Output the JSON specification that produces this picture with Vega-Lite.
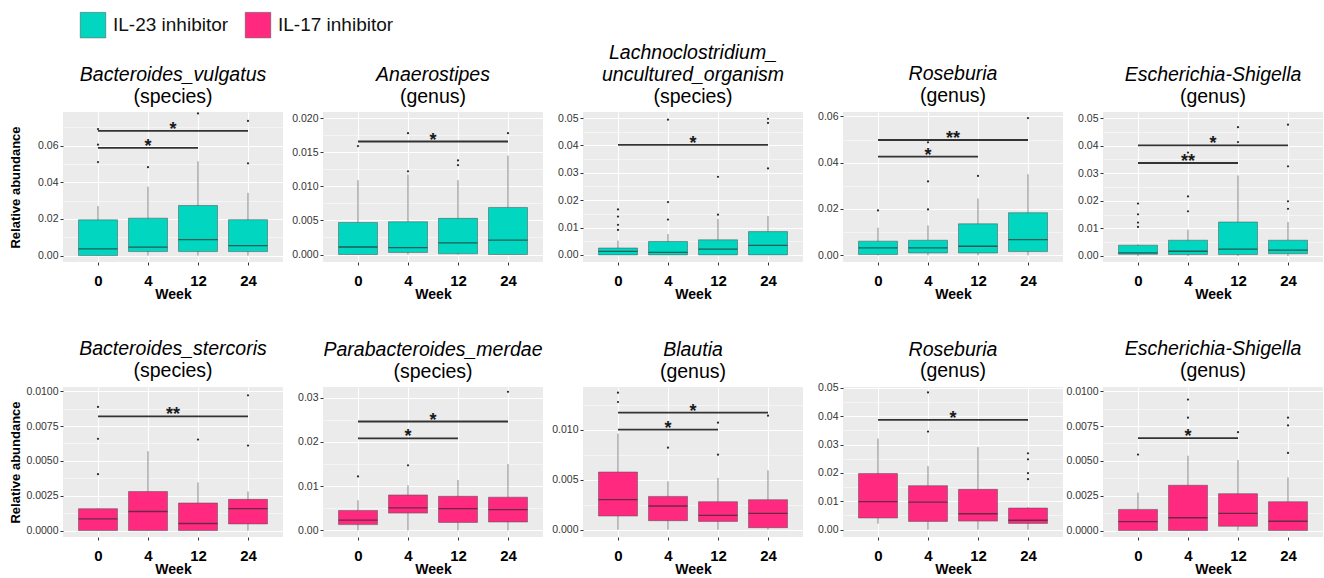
{
"$schema":"https://vega.github.io/schema/vega-lite/v6.json",
"padding":{"left":8,"top":12,"right":0,"bottom":0},
"background":"#FFFFFF",
"datasets":{
"boxes":[
{"panel":1,"group":"IL-23 inhibitor","week":"0","lower":0,"q1":0,"median":0.0037,"q3":0.0195,"upper":0.027},
{"panel":1,"group":"IL-23 inhibitor","week":"4","lower":0,"q1":0.0022,"median":0.0046,"q3":0.0204,"upper":0.0376},
{"panel":1,"group":"IL-23 inhibitor","week":"12","lower":0,"q1":0.0022,"median":0.0087,"q3":0.0273,"upper":0.0514},
{"panel":1,"group":"IL-23 inhibitor","week":"24","lower":0,"q1":0.0022,"median":0.0054,"q3":0.0196,"upper":0.0342},
{"panel":2,"group":"IL-23 inhibitor","week":"0","lower":0,"q1":0,"median":0.0011,"q3":0.0047,"upper":0.0109},
{"panel":2,"group":"IL-23 inhibitor","week":"4","lower":0,"q1":0.0003,"median":0.001,"q3":0.0048,"upper":0.0117},
{"panel":2,"group":"IL-23 inhibitor","week":"12","lower":0,"q1":0.0001,"median":0.0017,"q3":0.0053,"upper":0.0109},
{"panel":2,"group":"IL-23 inhibitor","week":"24","lower":0,"q1":0,"median":0.0021,"q3":0.0069,"upper":0.0145},
{"panel":3,"group":"IL-23 inhibitor","week":"0","lower":0,"q1":0,"median":0.0013,"q3":0.0025,"upper":0.0052},
{"panel":3,"group":"IL-23 inhibitor","week":"4","lower":0,"q1":0,"median":0.0009,"q3":0.0049,"upper":0.0076},
{"panel":3,"group":"IL-23 inhibitor","week":"12","lower":0,"q1":0,"median":0.0021,"q3":0.0055,"upper":0.0131},
{"panel":3,"group":"IL-23 inhibitor","week":"24","lower":0,"q1":0,"median":0.0035,"q3":0.0085,"upper":0.0142},
{"panel":4,"group":"IL-23 inhibitor","week":"0","lower":0,"q1":0.0003,"median":0.0032,"q3":0.0061,"upper":0.0119},
{"panel":4,"group":"IL-23 inhibitor","week":"4","lower":0,"q1":0.001,"median":0.0032,"q3":0.0065,"upper":0.0129},
{"panel":4,"group":"IL-23 inhibitor","week":"12","lower":0,"q1":0.001,"median":0.0039,"q3":0.0136,"upper":0.0245},
{"panel":4,"group":"IL-23 inhibitor","week":"24","lower":0,"q1":0.0016,"median":0.0068,"q3":0.0184,"upper":0.035},
{"panel":5,"group":"IL-23 inhibitor","week":"0","lower":0,"q1":0.0006,"median":0.0011,"q3":0.0039,"upper":0.0042},
{"panel":5,"group":"IL-23 inhibitor","week":"4","lower":0,"q1":0.0005,"median":0.0017,"q3":0.0057,"upper":0.0095},
{"panel":5,"group":"IL-23 inhibitor","week":"12","lower":0,"q1":0.0005,"median":0.0025,"q3":0.0123,"upper":0.0292},
{"panel":5,"group":"IL-23 inhibitor","week":"24","lower":0,"q1":0.0008,"median":0.0021,"q3":0.0057,"upper":0.0123},
{"panel":6,"group":"IL-17 inhibitor","week":"0","lower":0,"q1":0,"median":0.00084,"q3":0.00157,"upper":0.0016},
{"panel":6,"group":"IL-17 inhibitor","week":"4","lower":0,"q1":0,"median":0.00137,"q3":0.0028,"upper":0.00569},
{"panel":6,"group":"IL-17 inhibitor","week":"12","lower":0,"q1":0,"median":0.00051,"q3":0.00198,"upper":0.00345},
{"panel":6,"group":"IL-17 inhibitor","week":"24","lower":0,"q1":0.00048,"median":0.00157,"q3":0.00224,"upper":0.0028},
{"panel":7,"group":"IL-17 inhibitor","week":"0","lower":0,"q1":0.0013,"median":0.0023,"q3":0.0045,"upper":0.0068},
{"panel":7,"group":"IL-17 inhibitor","week":"4","lower":0,"q1":0.0039,"median":0.0051,"q3":0.008,"upper":0.0102},
{"panel":7,"group":"IL-17 inhibitor","week":"12","lower":0,"q1":0.0018,"median":0.0049,"q3":0.0077,"upper":0.0114},
{"panel":7,"group":"IL-17 inhibitor","week":"24","lower":0,"q1":0.0019,"median":0.0047,"q3":0.0075,"upper":0.015},
{"panel":8,"group":"IL-17 inhibitor","week":"0","lower":0,"q1":0.00137,"median":0.003,"q3":0.00577,"upper":0.0096},
{"panel":8,"group":"IL-17 inhibitor","week":"4","lower":0,"q1":0.0009,"median":0.00237,"q3":0.00333,"upper":0.00483},
{"panel":8,"group":"IL-17 inhibitor","week":"12","lower":0,"q1":0.00083,"median":0.00143,"q3":0.0028,"upper":0.00517},
{"panel":8,"group":"IL-17 inhibitor","week":"24","lower":0,"q1":0.0002,"median":0.00163,"q3":0.003,"upper":0.00593},
{"panel":9,"group":"IL-17 inhibitor","week":"0","lower":0.0021,"q1":0.0041,"median":0.0099,"q3":0.0198,"upper":0.0321},
{"panel":9,"group":"IL-17 inhibitor","week":"4","lower":0,"q1":0.0029,"median":0.0097,"q3":0.0155,"upper":0.0224},
{"panel":9,"group":"IL-17 inhibitor","week":"12","lower":0,"q1":0.003,"median":0.0056,"q3":0.0142,"upper":0.0291},
{"panel":9,"group":"IL-17 inhibitor","week":"24","lower":0,"q1":0.0022,"median":0.0033,"q3":0.0076,"upper":0.0079},
{"panel":10,"group":"IL-17 inhibitor","week":"0","lower":0,"q1":0,"median":0.00065,"q3":0.00152,"upper":0.00272},
{"panel":10,"group":"IL-17 inhibitor","week":"4","lower":0,"q1":0,"median":0.00092,"q3":0.00325,"upper":0.00537},
{"panel":10,"group":"IL-17 inhibitor","week":"12","lower":0,"q1":0.00031,"median":0.00123,"q3":0.00265,"upper":0.00506},
{"panel":10,"group":"IL-17 inhibitor","week":"24","lower":0,"q1":0,"median":0.00067,"q3":0.00207,"upper":0.00381}
],
"outliers":[
{"panel":1,"week":"0","value":0.051},{"panel":1,"week":"0","value":0.0605},{"panel":1,"week":"0","value":0.069},
{"panel":1,"week":"4","value":0.0482},{"panel":1,"week":"12","value":0.0775},
{"panel":1,"week":"24","value":0.0734},{"panel":1,"week":"24","value":0.0503},
{"panel":2,"week":"0","value":0.0159},{"panel":2,"week":"4","value":0.0122},{"panel":2,"week":"4","value":0.0178},
{"panel":2,"week":"12","value":0.0131},{"panel":2,"week":"12","value":0.0138},{"panel":2,"week":"24","value":0.0178},
{"panel":3,"week":"0","value":0.0091},{"panel":3,"week":"0","value":0.011},{"panel":3,"week":"0","value":0.014},{"panel":3,"week":"0","value":0.0166},
{"panel":3,"week":"4","value":0.0129},{"panel":3,"week":"4","value":0.0193},{"panel":3,"week":"4","value":0.0494},
{"panel":3,"week":"12","value":0.0147},{"panel":3,"week":"12","value":0.0285},
{"panel":3,"week":"24","value":0.0316},{"panel":3,"week":"24","value":0.0482},{"panel":3,"week":"24","value":0.0497},
{"panel":4,"week":"0","value":0.0194},{"panel":4,"week":"4","value":0.0198},{"panel":4,"week":"4","value":0.0319},{"panel":4,"week":"4","value":0.0488},
{"panel":4,"week":"12","value":0.0343},{"panel":4,"week":"24","value":0.0593},
{"panel":5,"week":"0","value":0.0105},{"panel":5,"week":"0","value":0.0121},{"panel":5,"week":"0","value":0.0151},{"panel":5,"week":"0","value":0.019},
{"panel":5,"week":"4","value":0.0162},{"panel":5,"week":"4","value":0.0216},{"panel":5,"week":"4","value":0.0375},
{"panel":5,"week":"12","value":0.0413},{"panel":5,"week":"12","value":0.0467},
{"panel":5,"week":"24","value":0.0171},{"panel":5,"week":"24","value":0.0198},{"panel":5,"week":"24","value":0.0325},{"panel":5,"week":"24","value":0.0476},
{"panel":6,"week":"0","value":0.00405},{"panel":6,"week":"0","value":0.00658},{"panel":6,"week":"0","value":0.00887},
{"panel":6,"week":"12","value":0.00653},{"panel":6,"week":"24","value":0.0061},{"panel":6,"week":"24","value":0.0097},
{"panel":7,"week":"0","value":0.0122},{"panel":7,"week":"4","value":0.0147},{"panel":7,"week":"24","value":0.0313},
{"panel":8,"week":"0","value":0.01277},{"panel":8,"week":"0","value":0.0137},{"panel":8,"week":"4","value":0.0082},
{"panel":8,"week":"12","value":0.0075},{"panel":8,"week":"12","value":0.0107},{"panel":8,"week":"24","value":0.0114},
{"panel":9,"week":"4","value":0.0346},{"panel":9,"week":"4","value":0.0484},
{"panel":9,"week":"24","value":0.0178},{"panel":9,"week":"24","value":0.0199},{"panel":9,"week":"24","value":0.0248},{"panel":9,"week":"24","value":0.0269},
{"panel":10,"week":"0","value":0.00545},{"panel":10,"week":"4","value":0.0081},{"panel":10,"week":"4","value":0.0094},
{"panel":10,"week":"12","value":0.00706},{"panel":10,"week":"24","value":0.00557},{"panel":10,"week":"24","value":0.00754},{"panel":10,"week":"24","value":0.0081}
],
"sig":[
{"panel":1,"from":"0","to":"12","level":0.0587,"label":"*"},{"panel":1,"from":"0","to":"24","level":0.068,"label":"*"},
{"panel":2,"from":"0","to":"24","level":0.01657,"label":"*"},
{"panel":3,"from":"0","to":"24","level":0.0402,"label":"*"},
{"panel":4,"from":"0","to":"12","level":0.0426,"label":"*"},{"panel":4,"from":"0","to":"24","level":0.0498,"label":"**"},
{"panel":5,"from":"0","to":"12","level":0.0337,"label":"**"},{"panel":5,"from":"0","to":"24","level":0.0401,"label":"*"},
{"panel":6,"from":"0","to":"24","level":0.0082,"label":"**"},
{"panel":7,"from":"0","to":"12","level":0.0208,"label":"*"},{"panel":7,"from":"0","to":"24","level":0.0246,"label":"*"},
{"panel":8,"from":"0","to":"12","level":0.01,"label":"*"},{"panel":8,"from":"0","to":"24","level":0.0117,"label":"*"},
{"panel":9,"from":"0","to":"24","level":0.0387,"label":"*"},
{"panel":10,"from":"0","to":"12","level":0.00663,"label":"*"}
]
},
"columns":5,
"spacing":{"row":125,"column":40},
"bounds":"flush",
"concat":[
{"width":220,"height":150,"title":{"text":"Bacteroides_vulgatus","subtitle":"(species)"},
"layer":[
{"data":{"name":"boxes"},"transform":[{"filter":"datum.panel==1"},{"calculate":"indexof(['0','4','12','24'],datum.week)+1","as":"idx"}],
"layer":[
{"mark":{"type":"rule","color":"#7a7a7a","strokeWidth":0.9},"encoding":{
"x":{"field":"idx","type":"quantitative","title":"Week","scale":{"domain":[0.4,4.6],"nice":false,"zero":false},"axis":{"values":[1,2,3,4],"labelExpr":"['0','4','12','24'][datum.value-1]"}},
"y":{"field":"lower","type":"quantitative","title":"Relative abundance","scale":{"domain":[-0.0035,0.0783],"nice":false,"zero":false},
"axis":{"tickCount":30,"labelOverlap":false,"values":[0,0.01,0.02,0.03,0.04,0.05,0.06,0.07],"format":".2f","labelExpr":"indexof([0,0.02,0.04,0.06],datum.value)>=0 ? datum.label : ''","gridWidth":{"condition":{"test":"indexof([0,0.02,0.04,0.06],datum.value)>=0","value":1.1},"value":0.5},"tickOpacity":{"condition":{"test":"indexof([0,0.02,0.04,0.06],datum.value)>=0","value":1},"value":0},"titleX":-41}},
"y2":{"field":"upper"}}},
{"mark":{"type":"bar","size":39,"stroke":"#4d4d4d","strokeWidth":0.5},"encoding":{
"x":{"field":"idx","type":"quantitative","title":"Week","scale":{"domain":[0.4,4.6],"nice":false,"zero":false}},
"y":{"field":"q1","type":"quantitative","title":"Relative abundance","scale":{"domain":[-0.0035,0.0783],"nice":false,"zero":false}},
"y2":{"field":"q3"},
"color":{"field":"group","type":"nominal","scale":{"domain":["IL-23 inhibitor","IL-17 inhibitor"],"range":["#00D6C0","#FF2A80"]},
"legend":{"orient":"none","legendX":17,"legendY":-100,"direction":"horizontal","title":null,"symbolType":"square","symbolSize":650,"symbolStrokeWidth":0.5,"symbolStrokeColor":"#cccccc","labelFontSize":19,"labelFont":"Liberation Sans","labelColor":"#111111","columnPadding":15,"labelOffset":7,"padding":0}}}},
{"mark":{"type":"tick","orient":"horizontal","size":39,"thickness":1.3,"color":"#2b2b2b"},"encoding":{
"x":{"field":"idx","type":"quantitative","title":"Week","scale":{"domain":[0.4,4.6],"nice":false,"zero":false}},
"y":{"field":"median","type":"quantitative","title":"Relative abundance","scale":{"domain":[-0.0035,0.0783],"nice":false,"zero":false}}}}
]},
{"data":{"name":"outliers"},"transform":[{"filter":"datum.panel==1"},{"calculate":"indexof(['0','4','12','24'],datum.week)+1","as":"idx"}],
"mark":{"type":"point","filled":true,"size":5,"color":"#2b2b2b","opacity":1},"encoding":{
"x":{"field":"idx","type":"quantitative","title":"Week","scale":{"domain":[0.4,4.6],"nice":false,"zero":false}},
"y":{"field":"value","type":"quantitative","title":"Relative abundance","scale":{"domain":[-0.0035,0.0783],"nice":false,"zero":false}}}},
{"data":{"name":"sig"},"transform":[{"filter":"datum.panel==1"},{"calculate":"indexof(['0','4','12','24'],datum.from)+1","as":"i1"},{"calculate":"indexof(['0','4','12','24'],datum.to)+1","as":"i2"},{"calculate":"(datum.i1+datum.i2)/2","as":"mid"}],
"layer":[
{"mark":{"type":"rule","color":"#333333","strokeWidth":1.8},"encoding":{
"x":{"field":"i1","type":"quantitative","title":"Week","scale":{"domain":[0.4,4.6],"nice":false,"zero":false}},"x2":{"field":"i2"},
"y":{"field":"level","type":"quantitative","title":"Relative abundance","scale":{"domain":[-0.0035,0.0783],"nice":false,"zero":false}}}},
{"mark":{"type":"text","fontSize":18,"fontWeight":"bold","dy":4,"baseline":"alphabetic","color":"#1a1a1a"},"encoding":{
"x":{"field":"mid","type":"quantitative","title":"Week","scale":{"domain":[0.4,4.6],"nice":false,"zero":false}},
"y":{"field":"level","type":"quantitative","title":"Relative abundance","scale":{"domain":[-0.0035,0.0783],"nice":false,"zero":false}},
"text":{"field":"label"}}}
]}
]},
{"width":220,"height":150,"title":{"text":"Anaerostipes","subtitle":"(genus)"},
"layer":[
{"data":{"name":"boxes"},"transform":[{"filter":"datum.panel==2"},{"calculate":"indexof(['0','4','12','24'],datum.week)+1","as":"idx"}],
"layer":[
{"mark":{"type":"rule","color":"#7a7a7a","strokeWidth":0.9},"encoding":{
"x":{"field":"idx","type":"quantitative","title":"Week","scale":{"domain":[0.4,4.6],"nice":false,"zero":false},"axis":{"values":[1,2,3,4],"labelExpr":"['0','4','12','24'][datum.value-1]"}},
"y":{"field":"lower","type":"quantitative","title":null,"scale":{"domain":[-0.0011,0.0209],"nice":false,"zero":false},
"axis":{"tickCount":30,"labelOverlap":false,"values":[0,0.0025,0.005,0.0075,0.01,0.0125,0.015,0.0175,0.02],"format":".3f","labelExpr":"indexof([0,0.005,0.01,0.015,0.02],datum.value)>=0 ? datum.label : ''","gridWidth":{"condition":{"test":"indexof([0,0.005,0.01,0.015,0.02],datum.value)>=0","value":1.1},"value":0.5},"tickOpacity":{"condition":{"test":"indexof([0,0.005,0.01,0.015,0.02],datum.value)>=0","value":1},"value":0}}},
"y2":{"field":"upper"}}},
{"mark":{"type":"bar","size":39,"stroke":"#4d4d4d","strokeWidth":0.5},"encoding":{
"x":{"field":"idx","type":"quantitative","title":"Week","scale":{"domain":[0.4,4.6],"nice":false,"zero":false}},
"y":{"field":"q1","type":"quantitative","title":null,"scale":{"domain":[-0.0011,0.0209],"nice":false,"zero":false}},
"y2":{"field":"q3"},
"color":{"field":"group","type":"nominal","scale":{"domain":["IL-23 inhibitor","IL-17 inhibitor"],"range":["#00D6C0","#FF2A80"]}}}},
{"mark":{"type":"tick","orient":"horizontal","size":39,"thickness":1.3,"color":"#2b2b2b"},"encoding":{
"x":{"field":"idx","type":"quantitative","title":"Week","scale":{"domain":[0.4,4.6],"nice":false,"zero":false}},
"y":{"field":"median","type":"quantitative","title":null,"scale":{"domain":[-0.0011,0.0209],"nice":false,"zero":false}}}}
]},
{"data":{"name":"outliers"},"transform":[{"filter":"datum.panel==2"},{"calculate":"indexof(['0','4','12','24'],datum.week)+1","as":"idx"}],
"mark":{"type":"point","filled":true,"size":5,"color":"#2b2b2b","opacity":1},"encoding":{
"x":{"field":"idx","type":"quantitative","title":"Week","scale":{"domain":[0.4,4.6],"nice":false,"zero":false}},
"y":{"field":"value","type":"quantitative","title":null,"scale":{"domain":[-0.0011,0.0209],"nice":false,"zero":false}}}},
{"data":{"name":"sig"},"transform":[{"filter":"datum.panel==2"},{"calculate":"indexof(['0','4','12','24'],datum.from)+1","as":"i1"},{"calculate":"indexof(['0','4','12','24'],datum.to)+1","as":"i2"},{"calculate":"(datum.i1+datum.i2)/2","as":"mid"}],
"layer":[
{"mark":{"type":"rule","color":"#333333","strokeWidth":1.8},"encoding":{
"x":{"field":"i1","type":"quantitative","title":"Week","scale":{"domain":[0.4,4.6],"nice":false,"zero":false}},"x2":{"field":"i2"},
"y":{"field":"level","type":"quantitative","title":null,"scale":{"domain":[-0.0011,0.0209],"nice":false,"zero":false}}}},
{"mark":{"type":"text","fontSize":18,"fontWeight":"bold","dy":4,"baseline":"alphabetic","color":"#1a1a1a"},"encoding":{
"x":{"field":"mid","type":"quantitative","title":"Week","scale":{"domain":[0.4,4.6],"nice":false,"zero":false}},
"y":{"field":"level","type":"quantitative","title":null,"scale":{"domain":[-0.0011,0.0209],"nice":false,"zero":false}},
"text":{"field":"label"}}}
]}
]},
{"width":220,"height":150,"title":{"text":["Lachnoclostridium_","uncultured_organism"],"subtitle":"(species)"},
"layer":[
{"data":{"name":"boxes"},"transform":[{"filter":"datum.panel==3"},{"calculate":"indexof(['0','4','12','24'],datum.week)+1","as":"idx"}],
"layer":[
{"mark":{"type":"rule","color":"#7a7a7a","strokeWidth":0.9},"encoding":{
"x":{"field":"idx","type":"quantitative","title":"Week","scale":{"domain":[0.4,4.6],"nice":false,"zero":false},"axis":{"values":[1,2,3,4],"labelExpr":"['0','4','12','24'][datum.value-1]"}},
"y":{"field":"lower","type":"quantitative","title":null,"scale":{"domain":[-0.0026,0.0522],"nice":false,"zero":false},
"axis":{"tickCount":30,"labelOverlap":false,"values":[0,0.005,0.01,0.015,0.02,0.025,0.03,0.035,0.04,0.045,0.05],"format":".2f","labelExpr":"indexof([0,0.01,0.02,0.03,0.04,0.05],datum.value)>=0 ? datum.label : ''","gridWidth":{"condition":{"test":"indexof([0,0.01,0.02,0.03,0.04,0.05],datum.value)>=0","value":1.1},"value":0.5},"tickOpacity":{"condition":{"test":"indexof([0,0.01,0.02,0.03,0.04,0.05],datum.value)>=0","value":1},"value":0}}},
"y2":{"field":"upper"}}},
{"mark":{"type":"bar","size":39,"stroke":"#4d4d4d","strokeWidth":0.5},"encoding":{
"x":{"field":"idx","type":"quantitative","title":"Week","scale":{"domain":[0.4,4.6],"nice":false,"zero":false}},
"y":{"field":"q1","type":"quantitative","title":null,"scale":{"domain":[-0.0026,0.0522],"nice":false,"zero":false}},
"y2":{"field":"q3"},
"color":{"field":"group","type":"nominal","scale":{"domain":["IL-23 inhibitor","IL-17 inhibitor"],"range":["#00D6C0","#FF2A80"]}}}},
{"mark":{"type":"tick","orient":"horizontal","size":39,"thickness":1.3,"color":"#2b2b2b"},"encoding":{
"x":{"field":"idx","type":"quantitative","title":"Week","scale":{"domain":[0.4,4.6],"nice":false,"zero":false}},
"y":{"field":"median","type":"quantitative","title":null,"scale":{"domain":[-0.0026,0.0522],"nice":false,"zero":false}}}}
]},
{"data":{"name":"outliers"},"transform":[{"filter":"datum.panel==3"},{"calculate":"indexof(['0','4','12','24'],datum.week)+1","as":"idx"}],
"mark":{"type":"point","filled":true,"size":5,"color":"#2b2b2b","opacity":1},"encoding":{
"x":{"field":"idx","type":"quantitative","title":"Week","scale":{"domain":[0.4,4.6],"nice":false,"zero":false}},
"y":{"field":"value","type":"quantitative","title":null,"scale":{"domain":[-0.0026,0.0522],"nice":false,"zero":false}}}},
{"data":{"name":"sig"},"transform":[{"filter":"datum.panel==3"},{"calculate":"indexof(['0','4','12','24'],datum.from)+1","as":"i1"},{"calculate":"indexof(['0','4','12','24'],datum.to)+1","as":"i2"},{"calculate":"(datum.i1+datum.i2)/2","as":"mid"}],
"layer":[
{"mark":{"type":"rule","color":"#333333","strokeWidth":1.8},"encoding":{
"x":{"field":"i1","type":"quantitative","title":"Week","scale":{"domain":[0.4,4.6],"nice":false,"zero":false}},"x2":{"field":"i2"},
"y":{"field":"level","type":"quantitative","title":null,"scale":{"domain":[-0.0026,0.0522],"nice":false,"zero":false}}}},
{"mark":{"type":"text","fontSize":18,"fontWeight":"bold","dy":4,"baseline":"alphabetic","color":"#1a1a1a"},"encoding":{
"x":{"field":"mid","type":"quantitative","title":"Week","scale":{"domain":[0.4,4.6],"nice":false,"zero":false}},
"y":{"field":"level","type":"quantitative","title":null,"scale":{"domain":[-0.0026,0.0522],"nice":false,"zero":false}},
"text":{"field":"label"}}}
]}
]},
{"width":220,"height":150,"title":{"text":"Roseburia","subtitle":"(genus)"},
"layer":[
{"data":{"name":"boxes"},"transform":[{"filter":"datum.panel==4"},{"calculate":"indexof(['0','4','12','24'],datum.week)+1","as":"idx"}],
"layer":[
{"mark":{"type":"rule","color":"#7a7a7a","strokeWidth":0.9},"encoding":{
"x":{"field":"idx","type":"quantitative","title":"Week","scale":{"domain":[0.4,4.6],"nice":false,"zero":false},"axis":{"values":[1,2,3,4],"labelExpr":"['0','4','12','24'][datum.value-1]"}},
"y":{"field":"lower","type":"quantitative","title":null,"scale":{"domain":[-0.0029,0.0619],"nice":false,"zero":false},
"axis":{"tickCount":30,"labelOverlap":false,"values":[0,0.01,0.02,0.03,0.04,0.05,0.06],"format":".2f","labelExpr":"indexof([0,0.02,0.04,0.06],datum.value)>=0 ? datum.label : ''","gridWidth":{"condition":{"test":"indexof([0,0.02,0.04,0.06],datum.value)>=0","value":1.1},"value":0.5},"tickOpacity":{"condition":{"test":"indexof([0,0.02,0.04,0.06],datum.value)>=0","value":1},"value":0}}},
"y2":{"field":"upper"}}},
{"mark":{"type":"bar","size":39,"stroke":"#4d4d4d","strokeWidth":0.5},"encoding":{
"x":{"field":"idx","type":"quantitative","title":"Week","scale":{"domain":[0.4,4.6],"nice":false,"zero":false}},
"y":{"field":"q1","type":"quantitative","title":null,"scale":{"domain":[-0.0029,0.0619],"nice":false,"zero":false}},
"y2":{"field":"q3"},
"color":{"field":"group","type":"nominal","scale":{"domain":["IL-23 inhibitor","IL-17 inhibitor"],"range":["#00D6C0","#FF2A80"]}}}},
{"mark":{"type":"tick","orient":"horizontal","size":39,"thickness":1.3,"color":"#2b2b2b"},"encoding":{
"x":{"field":"idx","type":"quantitative","title":"Week","scale":{"domain":[0.4,4.6],"nice":false,"zero":false}},
"y":{"field":"median","type":"quantitative","title":null,"scale":{"domain":[-0.0029,0.0619],"nice":false,"zero":false}}}}
]},
{"data":{"name":"outliers"},"transform":[{"filter":"datum.panel==4"},{"calculate":"indexof(['0','4','12','24'],datum.week)+1","as":"idx"}],
"mark":{"type":"point","filled":true,"size":5,"color":"#2b2b2b","opacity":1},"encoding":{
"x":{"field":"idx","type":"quantitative","title":"Week","scale":{"domain":[0.4,4.6],"nice":false,"zero":false}},
"y":{"field":"value","type":"quantitative","title":null,"scale":{"domain":[-0.0029,0.0619],"nice":false,"zero":false}}}},
{"data":{"name":"sig"},"transform":[{"filter":"datum.panel==4"},{"calculate":"indexof(['0','4','12','24'],datum.from)+1","as":"i1"},{"calculate":"indexof(['0','4','12','24'],datum.to)+1","as":"i2"},{"calculate":"(datum.i1+datum.i2)/2","as":"mid"}],
"layer":[
{"mark":{"type":"rule","color":"#333333","strokeWidth":1.8},"encoding":{
"x":{"field":"i1","type":"quantitative","title":"Week","scale":{"domain":[0.4,4.6],"nice":false,"zero":false}},"x2":{"field":"i2"},
"y":{"field":"level","type":"quantitative","title":null,"scale":{"domain":[-0.0029,0.0619],"nice":false,"zero":false}}}},
{"mark":{"type":"text","fontSize":18,"fontWeight":"bold","dy":4,"baseline":"alphabetic","color":"#1a1a1a"},"encoding":{
"x":{"field":"mid","type":"quantitative","title":"Week","scale":{"domain":[0.4,4.6],"nice":false,"zero":false}},
"y":{"field":"level","type":"quantitative","title":null,"scale":{"domain":[-0.0029,0.0619],"nice":false,"zero":false}},
"text":{"field":"label"}}}
]}
]},
{"width":220,"height":150,"title":{"text":"Escherichia-Shigella","subtitle":"(genus)"},
"layer":[
{"data":{"name":"boxes"},"transform":[{"filter":"datum.panel==5"},{"calculate":"indexof(['0','4','12','24'],datum.week)+1","as":"idx"}],
"layer":[
{"mark":{"type":"rule","color":"#7a7a7a","strokeWidth":0.9},"encoding":{
"x":{"field":"idx","type":"quantitative","title":"Week","scale":{"domain":[0.4,4.6],"nice":false,"zero":false},"axis":{"values":[1,2,3,4],"labelExpr":"['0','4','12','24'][datum.value-1]"}},
"y":{"field":"lower","type":"quantitative","title":null,"scale":{"domain":[-0.0022,0.0522],"nice":false,"zero":false},
"axis":{"tickCount":30,"labelOverlap":false,"values":[0,0.005,0.01,0.015,0.02,0.025,0.03,0.035,0.04,0.045,0.05],"format":".2f","labelExpr":"indexof([0,0.01,0.02,0.03,0.04,0.05],datum.value)>=0 ? datum.label : ''","gridWidth":{"condition":{"test":"indexof([0,0.01,0.02,0.03,0.04,0.05],datum.value)>=0","value":1.1},"value":0.5},"tickOpacity":{"condition":{"test":"indexof([0,0.01,0.02,0.03,0.04,0.05],datum.value)>=0","value":1},"value":0}}},
"y2":{"field":"upper"}}},
{"mark":{"type":"bar","size":39,"stroke":"#4d4d4d","strokeWidth":0.5},"encoding":{
"x":{"field":"idx","type":"quantitative","title":"Week","scale":{"domain":[0.4,4.6],"nice":false,"zero":false}},
"y":{"field":"q1","type":"quantitative","title":null,"scale":{"domain":[-0.0022,0.0522],"nice":false,"zero":false}},
"y2":{"field":"q3"},
"color":{"field":"group","type":"nominal","scale":{"domain":["IL-23 inhibitor","IL-17 inhibitor"],"range":["#00D6C0","#FF2A80"]}}}},
{"mark":{"type":"tick","orient":"horizontal","size":39,"thickness":1.3,"color":"#2b2b2b"},"encoding":{
"x":{"field":"idx","type":"quantitative","title":"Week","scale":{"domain":[0.4,4.6],"nice":false,"zero":false}},
"y":{"field":"median","type":"quantitative","title":null,"scale":{"domain":[-0.0022,0.0522],"nice":false,"zero":false}}}}
]},
{"data":{"name":"outliers"},"transform":[{"filter":"datum.panel==5"},{"calculate":"indexof(['0','4','12','24'],datum.week)+1","as":"idx"}],
"mark":{"type":"point","filled":true,"size":5,"color":"#2b2b2b","opacity":1},"encoding":{
"x":{"field":"idx","type":"quantitative","title":"Week","scale":{"domain":[0.4,4.6],"nice":false,"zero":false}},
"y":{"field":"value","type":"quantitative","title":null,"scale":{"domain":[-0.0022,0.0522],"nice":false,"zero":false}}}},
{"data":{"name":"sig"},"transform":[{"filter":"datum.panel==5"},{"calculate":"indexof(['0','4','12','24'],datum.from)+1","as":"i1"},{"calculate":"indexof(['0','4','12','24'],datum.to)+1","as":"i2"},{"calculate":"(datum.i1+datum.i2)/2","as":"mid"}],
"layer":[
{"mark":{"type":"rule","color":"#333333","strokeWidth":1.8},"encoding":{
"x":{"field":"i1","type":"quantitative","title":"Week","scale":{"domain":[0.4,4.6],"nice":false,"zero":false}},"x2":{"field":"i2"},
"y":{"field":"level","type":"quantitative","title":null,"scale":{"domain":[-0.0022,0.0522],"nice":false,"zero":false}}}},
{"mark":{"type":"text","fontSize":18,"fontWeight":"bold","dy":4,"baseline":"alphabetic","color":"#1a1a1a"},"encoding":{
"x":{"field":"mid","type":"quantitative","title":"Week","scale":{"domain":[0.4,4.6],"nice":false,"zero":false}},
"y":{"field":"level","type":"quantitative","title":null,"scale":{"domain":[-0.0022,0.0522],"nice":false,"zero":false}},
"text":{"field":"label"}}}
]}
]},
{"width":220,"height":150,"title":{"text":"Bacteroides_stercoris","subtitle":"(species)"},
"layer":[
{"data":{"name":"boxes"},"transform":[{"filter":"datum.panel==6"},{"calculate":"indexof(['0','4','12','24'],datum.week)+1","as":"idx"}],
"layer":[
{"mark":{"type":"rule","color":"#7a7a7a","strokeWidth":0.9},"encoding":{
"x":{"field":"idx","type":"quantitative","title":"Week","scale":{"domain":[0.4,4.6],"nice":false,"zero":false},"axis":{"values":[1,2,3,4],"labelExpr":"['0','4','12','24'][datum.value-1]"}},
"y":{"field":"lower","type":"quantitative","title":"Relative abundance","scale":{"domain":[-0.00046,0.0103],"nice":false,"zero":false},
"axis":{"tickCount":30,"labelOverlap":false,"values":[0,0.00125,0.0025,0.00375,0.005,0.00625,0.0075,0.00875,0.01],"format":".4f","labelExpr":"indexof([0,0.0025,0.005,0.0075,0.01],datum.value)>=0 ? datum.label : ''","gridWidth":{"condition":{"test":"indexof([0,0.0025,0.005,0.0075,0.01],datum.value)>=0","value":1.1},"value":0.5},"tickOpacity":{"condition":{"test":"indexof([0,0.0025,0.005,0.0075,0.01],datum.value)>=0","value":1},"value":0},"titleX":-41}},
"y2":{"field":"upper"}}},
{"mark":{"type":"bar","size":39,"stroke":"#4d4d4d","strokeWidth":0.5},"encoding":{
"x":{"field":"idx","type":"quantitative","title":"Week","scale":{"domain":[0.4,4.6],"nice":false,"zero":false}},
"y":{"field":"q1","type":"quantitative","title":"Relative abundance","scale":{"domain":[-0.00046,0.0103],"nice":false,"zero":false}},
"y2":{"field":"q3"},
"color":{"field":"group","type":"nominal","scale":{"domain":["IL-23 inhibitor","IL-17 inhibitor"],"range":["#00D6C0","#FF2A80"]}}}},
{"mark":{"type":"tick","orient":"horizontal","size":39,"thickness":1.3,"color":"#2b2b2b"},"encoding":{
"x":{"field":"idx","type":"quantitative","title":"Week","scale":{"domain":[0.4,4.6],"nice":false,"zero":false}},
"y":{"field":"median","type":"quantitative","title":"Relative abundance","scale":{"domain":[-0.00046,0.0103],"nice":false,"zero":false}}}}
]},
{"data":{"name":"outliers"},"transform":[{"filter":"datum.panel==6"},{"calculate":"indexof(['0','4','12','24'],datum.week)+1","as":"idx"}],
"mark":{"type":"point","filled":true,"size":5,"color":"#2b2b2b","opacity":1},"encoding":{
"x":{"field":"idx","type":"quantitative","title":"Week","scale":{"domain":[0.4,4.6],"nice":false,"zero":false}},
"y":{"field":"value","type":"quantitative","title":"Relative abundance","scale":{"domain":[-0.00046,0.0103],"nice":false,"zero":false}}}},
{"data":{"name":"sig"},"transform":[{"filter":"datum.panel==6"},{"calculate":"indexof(['0','4','12','24'],datum.from)+1","as":"i1"},{"calculate":"indexof(['0','4','12','24'],datum.to)+1","as":"i2"},{"calculate":"(datum.i1+datum.i2)/2","as":"mid"}],
"layer":[
{"mark":{"type":"rule","color":"#333333","strokeWidth":1.8},"encoding":{
"x":{"field":"i1","type":"quantitative","title":"Week","scale":{"domain":[0.4,4.6],"nice":false,"zero":false}},"x2":{"field":"i2"},
"y":{"field":"level","type":"quantitative","title":"Relative abundance","scale":{"domain":[-0.00046,0.0103],"nice":false,"zero":false}}}},
{"mark":{"type":"text","fontSize":18,"fontWeight":"bold","dy":4,"baseline":"alphabetic","color":"#1a1a1a"},"encoding":{
"x":{"field":"mid","type":"quantitative","title":"Week","scale":{"domain":[0.4,4.6],"nice":false,"zero":false}},
"y":{"field":"level","type":"quantitative","title":"Relative abundance","scale":{"domain":[-0.00046,0.0103],"nice":false,"zero":false}},
"text":{"field":"label"}}}
]}
]},
{"width":220,"height":150,"title":{"text":"Parabacteroides_merdae","subtitle":"(species)"},
"layer":[
{"data":{"name":"boxes"},"transform":[{"filter":"datum.panel==7"},{"calculate":"indexof(['0','4','12','24'],datum.week)+1","as":"idx"}],
"layer":[
{"mark":{"type":"rule","color":"#7a7a7a","strokeWidth":0.9},"encoding":{
"x":{"field":"idx","type":"quantitative","title":"Week","scale":{"domain":[0.4,4.6],"nice":false,"zero":false},"axis":{"values":[1,2,3,4],"labelExpr":"['0','4','12','24'][datum.value-1]"}},
"y":{"field":"lower","type":"quantitative","title":null,"scale":{"domain":[-0.0015,0.0324],"nice":false,"zero":false},
"axis":{"tickCount":30,"labelOverlap":false,"values":[0,0.005,0.01,0.015,0.02,0.025,0.03],"format":".2f","labelExpr":"indexof([0,0.01,0.02,0.03],datum.value)>=0 ? datum.label : ''","gridWidth":{"condition":{"test":"indexof([0,0.01,0.02,0.03],datum.value)>=0","value":1.1},"value":0.5},"tickOpacity":{"condition":{"test":"indexof([0,0.01,0.02,0.03],datum.value)>=0","value":1},"value":0}}},
"y2":{"field":"upper"}}},
{"mark":{"type":"bar","size":39,"stroke":"#4d4d4d","strokeWidth":0.5},"encoding":{
"x":{"field":"idx","type":"quantitative","title":"Week","scale":{"domain":[0.4,4.6],"nice":false,"zero":false}},
"y":{"field":"q1","type":"quantitative","title":null,"scale":{"domain":[-0.0015,0.0324],"nice":false,"zero":false}},
"y2":{"field":"q3"},
"color":{"field":"group","type":"nominal","scale":{"domain":["IL-23 inhibitor","IL-17 inhibitor"],"range":["#00D6C0","#FF2A80"]}}}},
{"mark":{"type":"tick","orient":"horizontal","size":39,"thickness":1.3,"color":"#2b2b2b"},"encoding":{
"x":{"field":"idx","type":"quantitative","title":"Week","scale":{"domain":[0.4,4.6],"nice":false,"zero":false}},
"y":{"field":"median","type":"quantitative","title":null,"scale":{"domain":[-0.0015,0.0324],"nice":false,"zero":false}}}}
]},
{"data":{"name":"outliers"},"transform":[{"filter":"datum.panel==7"},{"calculate":"indexof(['0','4','12','24'],datum.week)+1","as":"idx"}],
"mark":{"type":"point","filled":true,"size":5,"color":"#2b2b2b","opacity":1},"encoding":{
"x":{"field":"idx","type":"quantitative","title":"Week","scale":{"domain":[0.4,4.6],"nice":false,"zero":false}},
"y":{"field":"value","type":"quantitative","title":null,"scale":{"domain":[-0.0015,0.0324],"nice":false,"zero":false}}}},
{"data":{"name":"sig"},"transform":[{"filter":"datum.panel==7"},{"calculate":"indexof(['0','4','12','24'],datum.from)+1","as":"i1"},{"calculate":"indexof(['0','4','12','24'],datum.to)+1","as":"i2"},{"calculate":"(datum.i1+datum.i2)/2","as":"mid"}],
"layer":[
{"mark":{"type":"rule","color":"#333333","strokeWidth":1.8},"encoding":{
"x":{"field":"i1","type":"quantitative","title":"Week","scale":{"domain":[0.4,4.6],"nice":false,"zero":false}},"x2":{"field":"i2"},
"y":{"field":"level","type":"quantitative","title":null,"scale":{"domain":[-0.0015,0.0324],"nice":false,"zero":false}}}},
{"mark":{"type":"text","fontSize":18,"fontWeight":"bold","dy":4,"baseline":"alphabetic","color":"#1a1a1a"},"encoding":{
"x":{"field":"mid","type":"quantitative","title":"Week","scale":{"domain":[0.4,4.6],"nice":false,"zero":false}},
"y":{"field":"level","type":"quantitative","title":null,"scale":{"domain":[-0.0015,0.0324],"nice":false,"zero":false}},
"text":{"field":"label"}}}
]}
]},
{"width":220,"height":150,"title":{"text":"Blautia","subtitle":"(genus)"},
"layer":[
{"data":{"name":"boxes"},"transform":[{"filter":"datum.panel==8"},{"calculate":"indexof(['0','4','12','24'],datum.week)+1","as":"idx"}],
"layer":[
{"mark":{"type":"rule","color":"#7a7a7a","strokeWidth":0.9},"encoding":{
"x":{"field":"idx","type":"quantitative","title":"Week","scale":{"domain":[0.4,4.6],"nice":false,"zero":false},"axis":{"values":[1,2,3,4],"labelExpr":"['0','4','12','24'][datum.value-1]"}},
"y":{"field":"lower","type":"quantitative","title":null,"scale":{"domain":[-0.00073,0.01427],"nice":false,"zero":false},
"axis":{"tickCount":30,"labelOverlap":false,"values":[0,0.0025,0.005,0.0075,0.01,0.0125],"format":".3f","labelExpr":"indexof([0,0.005,0.01],datum.value)>=0 ? datum.label : ''","gridWidth":{"condition":{"test":"indexof([0,0.005,0.01],datum.value)>=0","value":1.1},"value":0.5},"tickOpacity":{"condition":{"test":"indexof([0,0.005,0.01],datum.value)>=0","value":1},"value":0}}},
"y2":{"field":"upper"}}},
{"mark":{"type":"bar","size":39,"stroke":"#4d4d4d","strokeWidth":0.5},"encoding":{
"x":{"field":"idx","type":"quantitative","title":"Week","scale":{"domain":[0.4,4.6],"nice":false,"zero":false}},
"y":{"field":"q1","type":"quantitative","title":null,"scale":{"domain":[-0.00073,0.01427],"nice":false,"zero":false}},
"y2":{"field":"q3"},
"color":{"field":"group","type":"nominal","scale":{"domain":["IL-23 inhibitor","IL-17 inhibitor"],"range":["#00D6C0","#FF2A80"]}}}},
{"mark":{"type":"tick","orient":"horizontal","size":39,"thickness":1.3,"color":"#2b2b2b"},"encoding":{
"x":{"field":"idx","type":"quantitative","title":"Week","scale":{"domain":[0.4,4.6],"nice":false,"zero":false}},
"y":{"field":"median","type":"quantitative","title":null,"scale":{"domain":[-0.00073,0.01427],"nice":false,"zero":false}}}}
]},
{"data":{"name":"outliers"},"transform":[{"filter":"datum.panel==8"},{"calculate":"indexof(['0','4','12','24'],datum.week)+1","as":"idx"}],
"mark":{"type":"point","filled":true,"size":5,"color":"#2b2b2b","opacity":1},"encoding":{
"x":{"field":"idx","type":"quantitative","title":"Week","scale":{"domain":[0.4,4.6],"nice":false,"zero":false}},
"y":{"field":"value","type":"quantitative","title":null,"scale":{"domain":[-0.00073,0.01427],"nice":false,"zero":false}}}},
{"data":{"name":"sig"},"transform":[{"filter":"datum.panel==8"},{"calculate":"indexof(['0','4','12','24'],datum.from)+1","as":"i1"},{"calculate":"indexof(['0','4','12','24'],datum.to)+1","as":"i2"},{"calculate":"(datum.i1+datum.i2)/2","as":"mid"}],
"layer":[
{"mark":{"type":"rule","color":"#333333","strokeWidth":1.8},"encoding":{
"x":{"field":"i1","type":"quantitative","title":"Week","scale":{"domain":[0.4,4.6],"nice":false,"zero":false}},"x2":{"field":"i2"},
"y":{"field":"level","type":"quantitative","title":null,"scale":{"domain":[-0.00073,0.01427],"nice":false,"zero":false}}}},
{"mark":{"type":"text","fontSize":18,"fontWeight":"bold","dy":4,"baseline":"alphabetic","color":"#1a1a1a"},"encoding":{
"x":{"field":"mid","type":"quantitative","title":"Week","scale":{"domain":[0.4,4.6],"nice":false,"zero":false}},
"y":{"field":"level","type":"quantitative","title":null,"scale":{"domain":[-0.00073,0.01427],"nice":false,"zero":false}},
"text":{"field":"label"}}}
]}
]},
{"width":220,"height":150,"title":{"text":"Roseburia","subtitle":"(genus)","offset":1},
"layer":[
{"data":{"name":"boxes"},"transform":[{"filter":"datum.panel==9"},{"calculate":"indexof(['0','4','12','24'],datum.week)+1","as":"idx"}],
"layer":[
{"mark":{"type":"rule","color":"#7a7a7a","strokeWidth":0.9},"encoding":{
"x":{"field":"idx","type":"quantitative","title":"Week","scale":{"domain":[0.4,4.6],"nice":false,"zero":false},"axis":{"values":[1,2,3,4],"labelExpr":"['0','4','12','24'][datum.value-1]"}},
"y":{"field":"lower","type":"quantitative","title":null,"scale":{"domain":[-0.0026,0.0503],"nice":false,"zero":false},
"axis":{"tickCount":30,"labelOverlap":false,"values":[0,0.005,0.01,0.015,0.02,0.025,0.03,0.035,0.04,0.045,0.05],"format":".2f","labelExpr":"indexof([0,0.01,0.02,0.03,0.04,0.05],datum.value)>=0 ? datum.label : ''","gridWidth":{"condition":{"test":"indexof([0,0.01,0.02,0.03,0.04,0.05],datum.value)>=0","value":1.1},"value":0.5},"tickOpacity":{"condition":{"test":"indexof([0,0.01,0.02,0.03,0.04,0.05],datum.value)>=0","value":1},"value":0}}},
"y2":{"field":"upper"}}},
{"mark":{"type":"bar","size":39,"stroke":"#4d4d4d","strokeWidth":0.5},"encoding":{
"x":{"field":"idx","type":"quantitative","title":"Week","scale":{"domain":[0.4,4.6],"nice":false,"zero":false}},
"y":{"field":"q1","type":"quantitative","title":null,"scale":{"domain":[-0.0026,0.0503],"nice":false,"zero":false}},
"y2":{"field":"q3"},
"color":{"field":"group","type":"nominal","scale":{"domain":["IL-23 inhibitor","IL-17 inhibitor"],"range":["#00D6C0","#FF2A80"]}}}},
{"mark":{"type":"tick","orient":"horizontal","size":39,"thickness":1.3,"color":"#2b2b2b"},"encoding":{
"x":{"field":"idx","type":"quantitative","title":"Week","scale":{"domain":[0.4,4.6],"nice":false,"zero":false}},
"y":{"field":"median","type":"quantitative","title":null,"scale":{"domain":[-0.0026,0.0503],"nice":false,"zero":false}}}}
]},
{"data":{"name":"outliers"},"transform":[{"filter":"datum.panel==9"},{"calculate":"indexof(['0','4','12','24'],datum.week)+1","as":"idx"}],
"mark":{"type":"point","filled":true,"size":5,"color":"#2b2b2b","opacity":1},"encoding":{
"x":{"field":"idx","type":"quantitative","title":"Week","scale":{"domain":[0.4,4.6],"nice":false,"zero":false}},
"y":{"field":"value","type":"quantitative","title":null,"scale":{"domain":[-0.0026,0.0503],"nice":false,"zero":false}}}},
{"data":{"name":"sig"},"transform":[{"filter":"datum.panel==9"},{"calculate":"indexof(['0','4','12','24'],datum.from)+1","as":"i1"},{"calculate":"indexof(['0','4','12','24'],datum.to)+1","as":"i2"},{"calculate":"(datum.i1+datum.i2)/2","as":"mid"}],
"layer":[
{"mark":{"type":"rule","color":"#333333","strokeWidth":1.8},"encoding":{
"x":{"field":"i1","type":"quantitative","title":"Week","scale":{"domain":[0.4,4.6],"nice":false,"zero":false}},"x2":{"field":"i2"},
"y":{"field":"level","type":"quantitative","title":null,"scale":{"domain":[-0.0026,0.0503],"nice":false,"zero":false}}}},
{"mark":{"type":"text","fontSize":18,"fontWeight":"bold","dy":4,"baseline":"alphabetic","color":"#1a1a1a"},"encoding":{
"x":{"field":"mid","type":"quantitative","title":"Week","scale":{"domain":[0.4,4.6],"nice":false,"zero":false}},
"y":{"field":"level","type":"quantitative","title":null,"scale":{"domain":[-0.0026,0.0503],"nice":false,"zero":false}},
"text":{"field":"label"}}}
]}
]},
{"width":220,"height":150,"title":{"text":"Escherichia-Shigella","subtitle":"(genus)"},
"layer":[
{"data":{"name":"boxes"},"transform":[{"filter":"datum.panel==10"},{"calculate":"indexof(['0','4','12','24'],datum.week)+1","as":"idx"}],
"layer":[
{"mark":{"type":"rule","color":"#7a7a7a","strokeWidth":0.9},"encoding":{
"x":{"field":"idx","type":"quantitative","title":"Week","scale":{"domain":[0.4,4.6],"nice":false,"zero":false},"axis":{"values":[1,2,3,4],"labelExpr":"['0','4','12','24'][datum.value-1]"}},
"y":{"field":"lower","type":"quantitative","title":null,"scale":{"domain":[-0.00046,0.0103],"nice":false,"zero":false},
"axis":{"tickCount":30,"labelOverlap":false,"values":[0,0.00125,0.0025,0.00375,0.005,0.00625,0.0075,0.00875,0.01],"format":".4f","labelExpr":"indexof([0,0.0025,0.005,0.0075,0.01],datum.value)>=0 ? datum.label : ''","gridWidth":{"condition":{"test":"indexof([0,0.0025,0.005,0.0075,0.01],datum.value)>=0","value":1.1},"value":0.5},"tickOpacity":{"condition":{"test":"indexof([0,0.0025,0.005,0.0075,0.01],datum.value)>=0","value":1},"value":0}}},
"y2":{"field":"upper"}}},
{"mark":{"type":"bar","size":39,"stroke":"#4d4d4d","strokeWidth":0.5},"encoding":{
"x":{"field":"idx","type":"quantitative","title":"Week","scale":{"domain":[0.4,4.6],"nice":false,"zero":false}},
"y":{"field":"q1","type":"quantitative","title":null,"scale":{"domain":[-0.00046,0.0103],"nice":false,"zero":false}},
"y2":{"field":"q3"},
"color":{"field":"group","type":"nominal","scale":{"domain":["IL-23 inhibitor","IL-17 inhibitor"],"range":["#00D6C0","#FF2A80"]}}}},
{"mark":{"type":"tick","orient":"horizontal","size":39,"thickness":1.3,"color":"#2b2b2b"},"encoding":{
"x":{"field":"idx","type":"quantitative","title":"Week","scale":{"domain":[0.4,4.6],"nice":false,"zero":false}},
"y":{"field":"median","type":"quantitative","title":null,"scale":{"domain":[-0.00046,0.0103],"nice":false,"zero":false}}}}
]},
{"data":{"name":"outliers"},"transform":[{"filter":"datum.panel==10"},{"calculate":"indexof(['0','4','12','24'],datum.week)+1","as":"idx"}],
"mark":{"type":"point","filled":true,"size":5,"color":"#2b2b2b","opacity":1},"encoding":{
"x":{"field":"idx","type":"quantitative","title":"Week","scale":{"domain":[0.4,4.6],"nice":false,"zero":false}},
"y":{"field":"value","type":"quantitative","title":null,"scale":{"domain":[-0.00046,0.0103],"nice":false,"zero":false}}}},
{"data":{"name":"sig"},"transform":[{"filter":"datum.panel==10"},{"calculate":"indexof(['0','4','12','24'],datum.from)+1","as":"i1"},{"calculate":"indexof(['0','4','12','24'],datum.to)+1","as":"i2"},{"calculate":"(datum.i1+datum.i2)/2","as":"mid"}],
"layer":[
{"mark":{"type":"rule","color":"#333333","strokeWidth":1.8},"encoding":{
"x":{"field":"i1","type":"quantitative","title":"Week","scale":{"domain":[0.4,4.6],"nice":false,"zero":false}},"x2":{"field":"i2"},
"y":{"field":"level","type":"quantitative","title":null,"scale":{"domain":[-0.00046,0.0103],"nice":false,"zero":false}}}},
{"mark":{"type":"text","fontSize":18,"fontWeight":"bold","dy":4,"baseline":"alphabetic","color":"#1a1a1a"},"encoding":{
"x":{"field":"mid","type":"quantitative","title":"Week","scale":{"domain":[0.4,4.6],"nice":false,"zero":false}},
"y":{"field":"level","type":"quantitative","title":null,"scale":{"domain":[-0.00046,0.0103],"nice":false,"zero":false}},
"text":{"field":"label"}}}
]}
]}
],
"config":{
"font":"Liberation Sans",
"view":{"fill":"#EBEBEB","stroke":null},
"axis":{"domain":false,"grid":true,"gridColor":"#FFFFFF","ticks":true,"tickColor":"#333333","tickSize":3,"tickWidth":1,"labelColor":"#333333","labelFontSize":10.5,"labelFont":"Liberation Sans","labelPadding":2,"labelOverlap":false,"labelFlush":false,"titleFont":"Liberation Sans","titleFontSize":13,"titleFontWeight":"bold","titleColor":"#000000"},
"axisX":{"labelFontSize":15,"labelFontWeight":"bold","labelColor":"#000000","labelPadding":8,"titleFontSize":14,"titlePadding":-1,"gridWidth":1.1},
"title":{"font":"Liberation Sans","fontSize":19.5,"fontStyle":"italic","fontWeight":"normal","color":"#000000","lineHeight":22,"subtitleFont":"Liberation Sans","subtitleFontSize":19.5,"subtitleColor":"#000000","subtitleFontStyle":"normal","subtitlePadding":2,"anchor":"middle","offset":5}
}
}
